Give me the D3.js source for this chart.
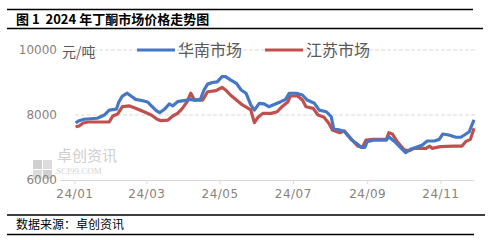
<!DOCTYPE html>
<html>
<head>
<meta charset="utf-8">
<script src="https://cdn.jsdelivr.net/npm/d3@7"></script>
<style>
  body { margin: 0; background: #fff; }
  svg { display: block; }
</style>
</head>
<body>
<div id="chart"></div>
<script>
// 华南市场 (dates, values)
const southDates = [
    '2024-01-02', '2024-01-05', '2024-01-09', '2024-01-20', '2024-01-26', '2024-01-30',
    '2024-02-05', '2024-02-07', '2024-02-10', '2024-02-14', '2024-02-18', '2024-02-21',
    '2024-02-27', '2024-03-02', '2024-03-06', '2024-03-09', '2024-03-12', '2024-03-16',
    '2024-03-20', '2024-03-23', '2024-03-27', '2024-04-01', '2024-04-06', '2024-04-10',
    '2024-04-15', '2024-04-18', '2024-04-21', '2024-04-25', '2024-04-29', '2024-05-03',
    '2024-05-06', '2024-05-10', '2024-05-15', '2024-05-19', '2024-05-23', '2024-05-27',
    '2024-05-30', '2024-06-03', '2024-06-07', '2024-06-11', '2024-06-16', '2024-06-21',
    '2024-06-25', '2024-06-28', '2024-07-04', '2024-07-09', '2024-07-13', '2024-07-19',
    '2024-07-23', '2024-07-29', '2024-08-02', '2024-08-04', '2024-08-09', '2024-08-13',
    '2024-08-19', '2024-08-23', '2024-08-27', '2024-08-30', '2024-09-01', '2024-09-07',
    '2024-09-17', '2024-09-19', '2024-09-24', '2024-09-28', '2024-10-03', '2024-10-07',
    '2024-10-12', '2024-10-17', '2024-10-21', '2024-10-27', '2024-10-31', '2024-11-03',
    '2024-11-08', '2024-11-14', '2024-11-18', '2024-11-21', '2024-11-25', '2024-11-29'
]
const southValues = [
    7760, 7825, 7870, 7900, 8000, 8150,
    8180, 8400, 8580, 8670, 8560, 8480,
    8440, 8400, 8250, 8140, 8070, 8175,
    8340, 8280, 8410, 8440, 8480, 8460,
    8480, 8770, 8950, 9000, 9020, 9180,
    9180, 9080, 8975, 8770, 8670, 8310,
    8150, 8360, 8340, 8255, 8330, 8410,
    8480, 8670, 8670, 8615, 8460, 8360,
    8150, 8100, 7950, 7590, 7540, 7490,
    7230, 7130, 7005, 7000, 7180, 7230,
    7230, 7330, 7180, 7025, 6840, 6945,
    7005, 7080, 7200, 7200, 7250, 7415,
    7385, 7315, 7315, 7385, 7485, 7850
]

// 江苏市场
const jiangsuDates = [
    '2024-01-02', '2024-01-05', '2024-01-08', '2024-01-12', '2024-01-30', '2024-02-02',
    '2024-02-06', '2024-02-10', '2024-02-16', '2024-02-21', '2024-02-28', '2024-03-05',
    '2024-03-10', '2024-03-13', '2024-03-19', '2024-03-23', '2024-03-27', '2024-03-31',
    '2024-04-04', '2024-04-07', '2024-04-10', '2024-04-17', '2024-04-21', '2024-04-28',
    '2024-05-03', '2024-05-06', '2024-05-10', '2024-05-15', '2024-05-20', '2024-05-27',
    '2024-05-30', '2024-06-02', '2024-06-06', '2024-06-13', '2024-06-18', '2024-06-22',
    '2024-06-27', '2024-06-29', '2024-07-05', '2024-07-09', '2024-07-12', '2024-07-18',
    '2024-07-22', '2024-07-27', '2024-07-31', '2024-08-03', '2024-08-09', '2024-08-13',
    '2024-08-19', '2024-08-24', '2024-08-28', '2024-08-31', '2024-09-06', '2024-09-17',
    '2024-09-19', '2024-09-22', '2024-09-26', '2024-10-02', '2024-10-06', '2024-10-10',
    '2024-10-20', '2024-10-23', '2024-10-25', '2024-11-01', '2024-11-12', '2024-11-19',
    '2024-11-22', '2024-11-26', '2024-11-29'
]
const jiangsuValues = [
    7640, 7660, 7745, 7785, 7785, 7970,
    8030, 8255, 8280, 8210, 8100, 8000,
    7870, 7825, 7845, 7970, 8050, 8205,
    8410, 8670, 8460, 8460, 8715, 8750,
    8850, 8770, 8615, 8460, 8310, 8155,
    7765, 7930, 8050, 8050, 8100, 8255,
    8410, 8585, 8585, 8460, 8255, 8205,
    8000, 7930, 7745, 7540, 7455, 7510,
    7250, 7045, 7005, 7230, 7250, 7250,
    7455, 7415, 7180, 6925, 6900, 6975,
    6975, 7045, 6975, 7025, 7045, 7045,
    7180, 7250, 7590
]

const seriesNames = ['华南市场', '江苏市场']
const colors = ['#4677c4', '#c0504d']
const yTicks = [6000, 8000, 10000]
const xTickDates = ['2024-01-01', '2024-03-01', '2024-05-01', '2024-07-01', '2024-09-01', '2024-11-01']

const width = 492
const height = 240
const parse = d3.timeParse('%Y-%m-%d')

const svg = d3.select('#chart')
    .append('svg')
    .attr('width', width)
    .attr('height', height)

// title block
svg.append('line').attr('x1', 7).attr('x2', 473).attr('y1', 9.5).attr('y2', 9.5)
    .attr('stroke', '#000').attr('stroke-width', 1.3)
svg.append('line').attr('x1', 7).attr('x2', 483).attr('y1', 28.5).attr('y2', 28.5)
    .attr('stroke', '#000').attr('stroke-width', 1.3)
svg.append('text')
    .attr('x', 16).attr('y', 24)
    .attr('font-family', '"Noto Sans CJK SC", sans-serif')
    .attr('font-weight', 'bold')
    .attr('font-size', 13)
    .attr('fill', '#000')
    .attr('xml:space', 'preserve')
    .style('white-space', 'pre')
    .text('图 1  2024 年丁酮市场价格走势图')

// source block
svg.append('line').attr('x1', 7).attr('x2', 485).attr('y1', 215).attr('y2', 215)
    .attr('stroke', '#000').attr('stroke-width', 1.3)
svg.append('line').attr('x1', 7).attr('x2', 474).attr('y1', 234.5).attr('y2', 234.5)
    .attr('stroke', '#000').attr('stroke-width', 1.3)
svg.append('text')
    .attr('x', 16).attr('y', 229)
    .attr('font-family', '"Noto Sans CJK SC", sans-serif')
    .attr('font-size', 12)
    .attr('fill', '#000')
    .text('数据来源：卓创资讯')

// Scales
const x_scale = d3.scaleTime()
    .domain([parse('2023-12-20'), parse('2024-11-29')])
    .range([60, 474])

const y_scale = d3.scaleLinear()
    .domain([6000, 10000])
    .range([180, 50])

// watermark
const wm = svg.append('g').attr('class', 'watermark')
wm.append('rect').attr('x', 33).attr('y', 160).attr('width', 9).attr('height', 9).attr('fill', '#d0d0d0')
wm.append('rect').attr('x', 43).attr('y', 160).attr('width', 9).attr('height', 9).attr('fill', '#dcdcdc')
wm.append('rect').attr('x', 33).attr('y', 170).attr('width', 9).attr('height', 9).attr('fill', '#dcdcdc')
wm.append('rect').attr('x', 43).attr('y', 170).attr('width', 9).attr('height', 9).attr('fill', '#d0d0d0')
wm.append('text')
    .attr('x', 57).attr('y', 161)
    .attr('font-family', '"Noto Sans CJK SC", sans-serif')
    .attr('font-size', 15)
    .attr('fill', '#cfcfcf')
    .text('卓创资讯')
wm.append('text')
    .attr('x', 56).attr('y', 174)
    .attr('font-family', '"Liberation Serif", serif')
    .attr('font-size', 9)
    .attr('fill', '#d4d4d4')
    .text('SCI99.COM')

// grid lines
svg.append('g')
    .selectAll('line')
    .data(yTicks.filter(function(d){ return d > 6000 }))
    .enter()
    .append('line')
    .attr('x1', 75)
    .attr('x2', 475)
    .attr('y1', function(d){ return y_scale(d) })
    .attr('y2', function(d){ return y_scale(d) })
    .attr('stroke', '#d9d9d9')
    .attr('stroke-width', 1)
    .attr('stroke-dasharray', '4,2')

// Y axis
const y_axis = d3.axisLeft(y_scale)
    .tickValues(yTicks)
    .tickSize(0)
    .tickPadding(3)
    .tickFormat(function(d){ return d })
svg.append('g')
    .attr('class', 'y-axis')
    .attr('transform', 'translate(60,0)')
    .call(y_axis)
    .call(function(g){ g.select('.domain').remove() })
    .selectAll('text')
    .attr('font-family', '"DejaVu Sans", sans-serif')
    .attr('font-size', 12)
    .attr('fill', '#8a8279')

// X axis
const x_axis = d3.axisBottom(x_scale)
    .tickValues(xTickDates.map(parse))
    .tickSize(4)
    .tickSizeOuter(0)
    .tickPadding(5)
    .tickFormat(d3.timeFormat('%y/%m'))
svg.append('g')
    .attr('class', 'x-axis')
    .attr('transform', 'translate(0,180)')
    .call(x_axis)
    .call(function(g){
        g.select('.domain').attr('stroke', '#d9d9d9')
        g.selectAll('.tick line').attr('stroke', '#d9d9d9')
    })
    .selectAll('text')
    .attr('font-family', '"DejaVu Sans", sans-serif')
    .attr('font-size', 12)
    .attr('letter-spacing', 0.5)
    .attr('fill', '#8a8279')

// unit
svg.append('text')
    .attr('x', 62).attr('y', 57)
    .attr('font-family', '"Noto Sans CJK SC", sans-serif')
    .attr('font-size', 14)
    .attr('fill', '#595959')
    .text('元/吨')

// lines
const line = d3.line()
    .x(function(d){ return x_scale(d.date) })
    .y(function(d){ return y_scale(d.value) })

const series = [
    southDates.map(function(d, i){ return {date: parse(d), value: southValues[i]} }),
    jiangsuDates.map(function(d, i){ return {date: parse(d), value: jiangsuValues[i]} })
]

svg.append('g')
    .attr('class', 'lines')
    .selectAll('path')
    .data([series[1], series[0]])
    .enter()
    .append('path')
    .attr('d', line)
    .attr('fill', 'none')
    .attr('stroke', function(d, i){ return i === 0 ? colors[1] : colors[0] })
    .attr('stroke-width', 3.2)
    .attr('stroke-linejoin', 'round')

// legend
const legendX = [137, 265]
const legend = svg.append('g').attr('class', 'legend')
seriesNames.forEach(function(name, i){
    legend.append('line')
        .attr('x1', legendX[i]).attr('x2', legendX[i] + 38)
        .attr('y1', 50).attr('y2', 50)
        .attr('stroke', colors[i])
        .attr('stroke-width', 3)
    legend.append('text')
        .attr('x', legendX[i] + 41)
        .attr('y', 56)
        .attr('font-family', '"Noto Sans CJK SC", sans-serif')
        .attr('font-size', 16)
        .attr('fill', '#595959')
        .text(name)
})
</script>
</body>
</html>
